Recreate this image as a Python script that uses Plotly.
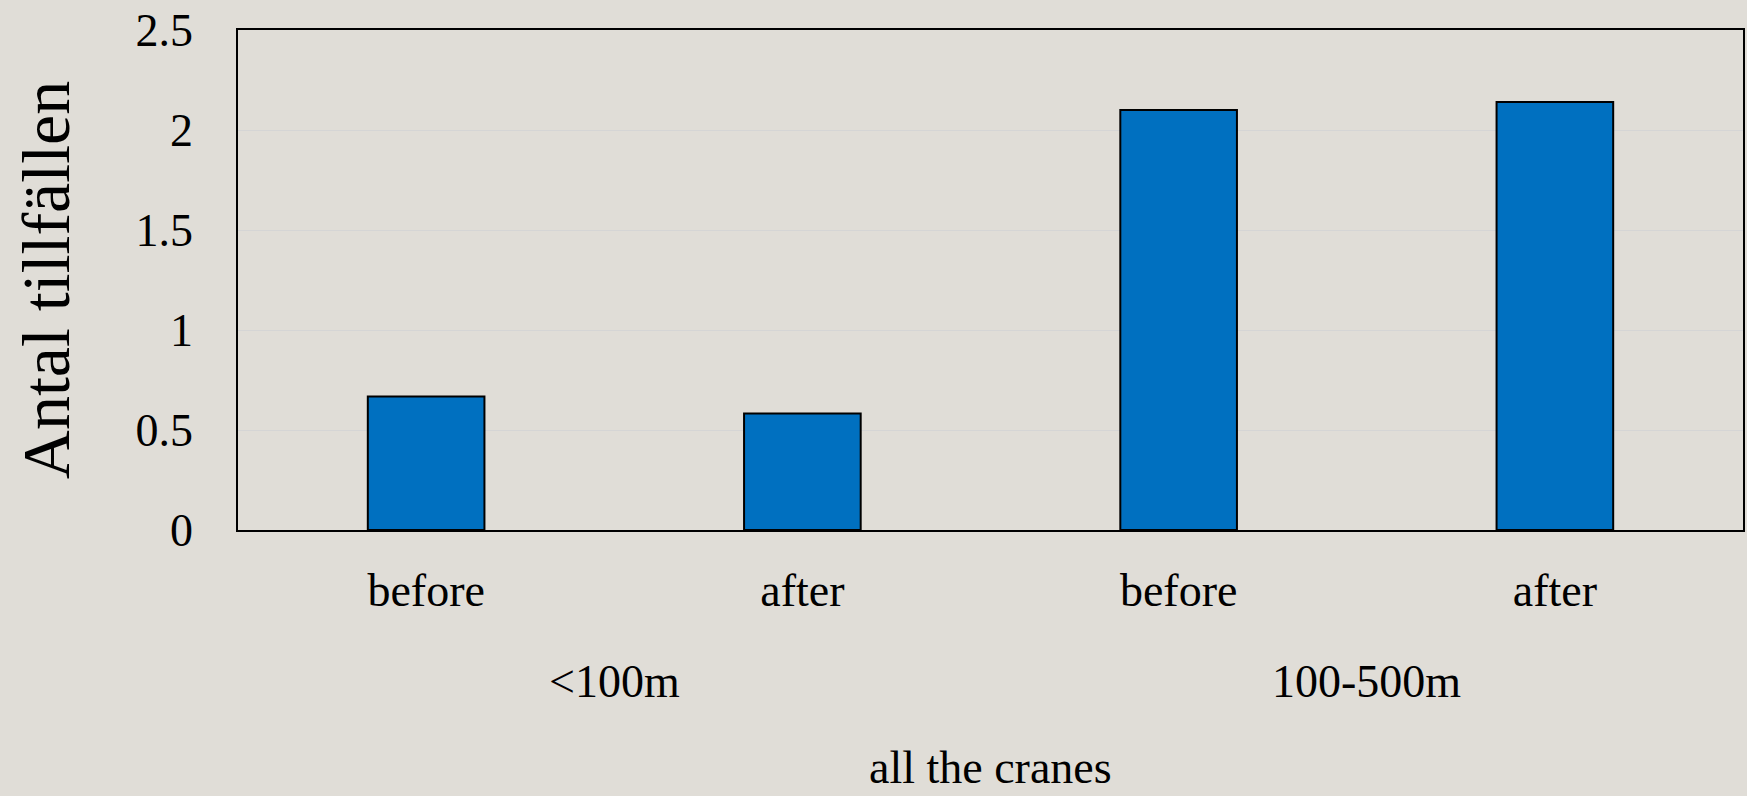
import plotly.graph_objects as go

# data
conditions = ["before", "after", "before", "after"]
groups = ["<100m", "100-500m"]
values = [0.667, 0.583, 2.1, 2.14]
x_title = "all the cranes"
y_title = "Antal tillfällen"

BG = "#E0DDD7"
BAR = "#0070C0"
FONT = "Liberation Serif"

xpos = list(range(len(conditions)))

fig = go.Figure()
fig.add_trace(
    go.Bar(
        x=xpos,
        y=values,
        width=0.31,
        marker=dict(color=BAR, line=dict(color="black", width=2)),
        showlegend=False,
    )
)

# group labels under the tick labels (centered on each pair of bars)
for i, g in enumerate(groups):
    fig.add_annotation(
        x=(xpos[2 * i] + xpos[2 * i + 1]) / 2, xref="x",
        y=-0.303, yref="paper",
        text=g, showarrow=False,
        xanchor="center", yanchor="middle",
        font=dict(family=FONT, size=46, color="black"),
    )

# outer category label
fig.add_annotation(
    x=(xpos[0] + xpos[-1]) / 2, xref="x",
    y=-0.474, yref="paper",
    text=x_title, showarrow=False,
    xanchor="center", yanchor="middle",
    font=dict(family=FONT, size=46, color="black"),
)

fig.update_xaxes(
    tickmode="array",
    tickvals=xpos,
    ticktext=conditions,
    range=[-0.5, len(conditions) - 0.5],
    showline=True, linecolor="black", linewidth=1.5, mirror=True,
    showgrid=False, zeroline=False,
    ticks="",
    ticklabelstandoff=19,
    tickfont=dict(family=FONT, size=46, color="black"),
)

fig.update_yaxes(
    range=[0, 2.5],
    dtick=0.5,
    showline=True, linecolor="black", linewidth=1.5, mirror=True,
    showgrid=True, gridcolor="#D5D5D5", gridwidth=1,
    zeroline=False,
    ticks="",
    ticklabelstandoff=34,
    tickfont=dict(family=FONT, size=46, color="black"),
    title=dict(text=y_title, font=dict(family=FONT, size=68, color="black"), standoff=44),
)

fig.update_layout(
    width=1747,
    height=796,
    paper_bgcolor=BG,
    plot_bgcolor=BG,
    margin=dict(l=238, r=2, t=30, b=266),
    font=dict(family=FONT, color="black"),
)

# drop the default page margin so the figure sits at the top-left corner
fig.write_html(
    "out.html",
    config={"displayModeBar": False},
    post_script="document.body.style.margin='0'; document.body.style.background='#E0DDD7';",
)
